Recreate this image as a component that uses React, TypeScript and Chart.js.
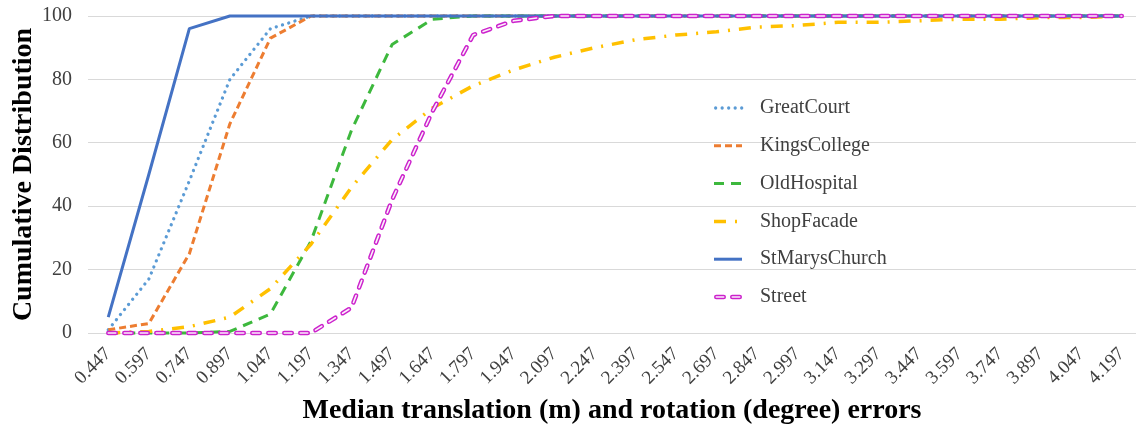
import React, { useEffect, useRef } from 'react';
import { Chart, registerables } from 'chart.js';

Chart.register(...registerables);

const FONT = "'Liberation Serif', 'Times New Roman', Times, serif";

const tickLabels = [
  '0.447', '0.597', '0.747', '0.897', '1.047', '1.197', '1.347', '1.497', '1.647',
  '1.797', '1.947', '2.097', '2.247', '2.397', '2.547', '2.697', '2.847', '2.997',
  '3.147', '3.297', '3.447', '3.597', '3.747', '3.897', '4.047', '4.197',
];

const yTickValues = [0, 20, 40, 60, 80, 100];

const seriesNames = ['GreatCourt', 'KingsCollege', 'OldHospital', 'ShopFacade', 'StMarysChurch', 'Street'];

const greatCourt = [1, 17, 48, 80, 96, 100, 100, 100, 100, 100, 100, 100, 100, 100, 100, 100, 100, 100, 100, 100, 100, 100, 100, 100, 100, 100];
const kingsCollege = [1, 3, 25, 66, 93, 100, 100, 100, 100, 100, 100, 100, 100, 100, 100, 100, 100, 100, 100, 100, 100, 100, 100, 100, 100, 100];
const oldHospital = [0, 0, 0, 0.5, 6, 29, 64, 91, 99, 100, 100, 100, 100, 100, 100, 100, 100, 100, 100, 100, 100, 100, 100, 100, 100, 100];
const shopFacade = [0, 0.5, 2, 5, 14, 28, 46, 61, 71, 78, 83, 87, 90, 92.5, 94, 95, 96.5, 97, 98, 98, 98.5, 99, 99, 99.5, 99.5, 100];
const stMarysChurch = [5, 50, 96, 100, 100, 100, 100, 100, 100, 100, 100, 100, 100, 100, 100, 100, 100, 100, 100, 100, 100, 100, 100, 100, 100, 100];
const street = [0, 0, 0, 0, 0, 0, 8, 42, 70, 94, 98.5, 100, 100, 100, 100, 100, 100, 100, 100, 100, 100, 100, 100, 100, 100, 100];

type Style = { color: string; width: number; dash: number[]; cap: CanvasLineCap; inner?: string; innerWidth?: number };

const seriesStyles: Style[] = [
  { color: '#5B9BD5', width: 3.3, dash: [0.01, 6.5], cap: 'round' },
  { color: '#ED7D31', width: 3, dash: [7, 4], cap: 'butt' },
  { color: '#3DB83D', width: 3, dash: [10, 7], cap: 'butt' },
  { color: '#FFC000', width: 3.5, dash: [12, 9, 2, 9], cap: 'butt' },
  { color: '#4472C4', width: 3, dash: [], cap: 'butt' },
  { color: '#CC22CC', width: 4.5, dash: [7.5, 8.5], cap: 'round', inner: '#FBEFFB', innerWidth: 1.6 },
];

const insideLegend = {
  id: 'insideLegend',
  afterDraw(chart: any) {
    const ctx: CanvasRenderingContext2D = chart.ctx;
    const x0 = 714;
    const x1 = 742;
    const tx = 760;
    const y0 = 108;
    const dy = 37.8;
    ctx.save();
    seriesNames.forEach((name, i) => {
      const st = seriesStyles[i];
      const y = y0 + i * dy;
      const strokeSample = (color: string, w: number) => {
        ctx.beginPath();
        ctx.strokeStyle = color;
        ctx.lineWidth = w;
        ctx.lineCap = st.cap;
        ctx.setLineDash(st.dash);
        ctx.moveTo(x0 + (st.cap === 'round' ? st.width / 2 : 0), y);
        ctx.lineTo(x1, y);
        ctx.stroke();
      };
      strokeSample(st.color, st.width);
      if (st.inner) strokeSample(st.inner, st.innerWidth || 1.5);
      ctx.setLineDash([]);
      ctx.fillStyle = '#404040';
      ctx.font = `20px ${FONT}`;
      ctx.textBaseline = 'middle';
      ctx.textAlign = 'left';
      ctx.fillText(name, tx, y);
    });
    ctx.restore();
  },
};

export default function App() {
  const ref = useRef<HTMLCanvasElement>(null);

  useEffect(() => {
    const values = [greatCourt, kingsCollege, oldHospital, shopFacade, stMarysChurch, street];
    const toPts = (arr: number[]) => arr.map((y, i) => ({ x: i, y }));
    const orders = [6, 5, 4, 3, 2, 1];
    const datasets: any[] = values.map((arr, i) => {
      const st = seriesStyles[i];
      return {
        label: seriesNames[i],
        data: toPts(arr),
        borderColor: st.color,
        backgroundColor: st.color,
        borderWidth: st.width,
        borderDash: st.dash,
        borderCapStyle: st.cap,
        borderJoinStyle: 'round',
        pointRadius: 0,
        tension: 0,
        fill: false,
        order: orders[i],
        clip: false,
      };
    });
    const sStyle = seriesStyles[5];
    datasets.push({
      label: 'Street-inner',
      data: toPts(street),
      borderColor: sStyle.inner,
      borderWidth: sStyle.innerWidth,
      borderDash: sStyle.dash,
      borderCapStyle: 'round',
      borderJoinStyle: 'round',
      pointRadius: 0,
      tension: 0,
      fill: false,
      order: 0,
      clip: false,
    });

    const chart = new Chart(ref.current as HTMLCanvasElement, {
      type: 'line',
      data: { datasets },
      plugins: [insideLegend],
      options: {
        responsive: false,
        animation: false,
        layout: { padding: { top: 16, left: 0, right: 0, bottom: 0 } },
        plugins: {
          legend: { display: false },
          tooltip: { enabled: false },
          title: { display: false },
        },
        scales: {
          x: {
            type: 'linear',
            bounds: 'data',
            min: -0.5,
            max: 25.35,
            afterBuildTicks: (scale: any) => {
              scale.ticks = tickLabels.map((_, i) => ({ value: i }));
            },
            afterFit: (scale: any) => {
              scale.height = 95;
              scale.paddingRight = 0;
              scale.paddingLeft = 0;
            },
            grid: { display: false, drawTicks: false },
            border: { display: false },
            ticks: {
              autoSkip: false,
              minRotation: 45,
              maxRotation: 45,
              padding: 10,
              color: '#404040',
              font: { family: FONT, size: 19 },
              callback: (v: any) => (Number.isInteger(v) ? tickLabels[v] ?? '' : ''),
            },
            title: {
              display: true,
              text: 'Median translation (m) and rotation (degree) errors',
              color: '#000',
              font: { family: FONT, size: 28, weight: 'bold' },
              padding: { top: 0, bottom: 0 },
            },
          },
          y: {
            type: 'linear',
            min: 0,
            max: 100,
            afterBuildTicks: (scale: any) => {
              scale.ticks = yTickValues.map((v) => ({ value: v }));
            },
            afterFit: (scale: any) => {
              scale.width = 88;
              scale.paddingTop = 0;
              scale.paddingBottom = 0;
            },
            grid: { color: '#D9D9D9', lineWidth: 1, drawTicks: false },
            border: { display: false },
            ticks: {
              padding: 16,
              color: '#404040',
              font: { family: FONT, size: 20 },
            },
            title: {
              display: true,
              text: 'Cumulative Distribution',
              color: '#000',
              font: { family: FONT, size: 28, weight: 'bold' },
              padding: { top: 7, bottom: 0 },
            },
          },
        },
      } as any,
    });
    return () => chart.destroy();
  }, []);

  return (
    <div style={{ position: 'absolute', left: 0, top: 0, width: 1136, height: 428, background: '#fff' }}>
      <canvas ref={ref} width={1136} height={428} style={{ display: 'block' }} />
    </div>
  );
}
